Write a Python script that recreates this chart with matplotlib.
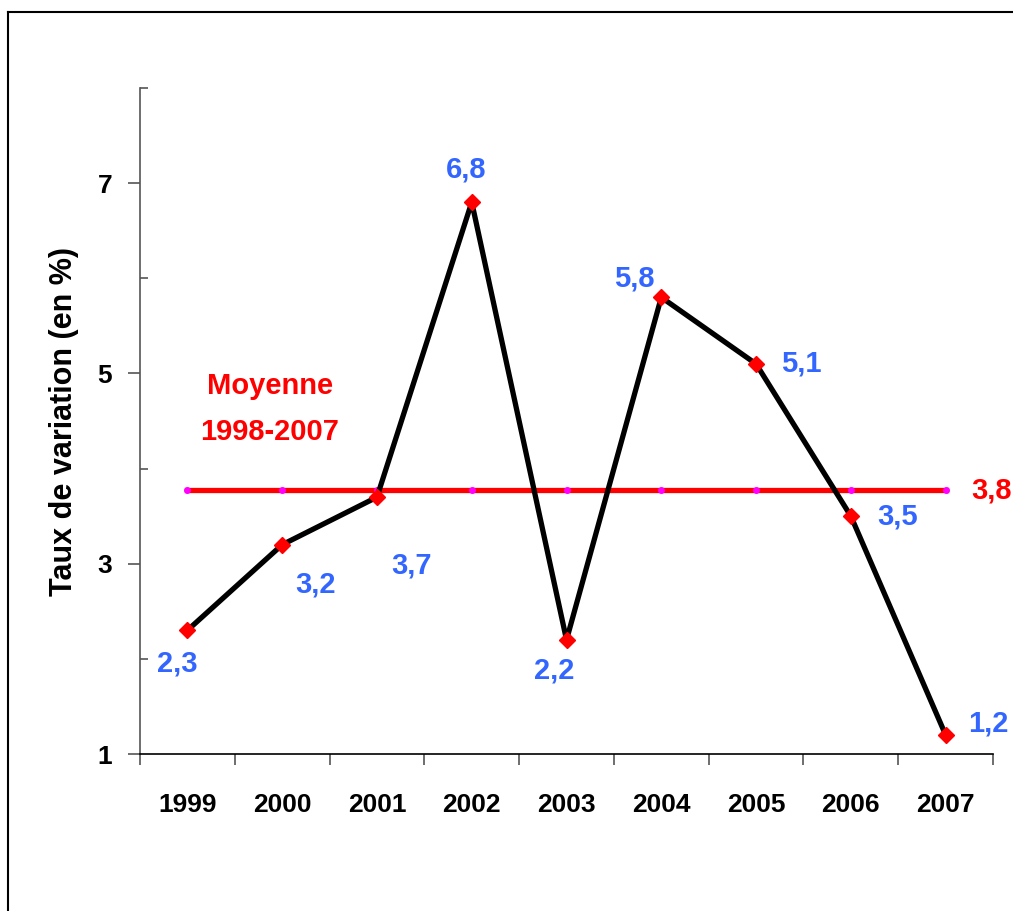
import numpy as np
import matplotlib
matplotlib.use("Agg")
import matplotlib.pyplot as plt
from matplotlib.lines import Line2D
from matplotlib.ticker import FixedLocator, NullFormatter, FixedFormatter

years = ["1999", "2000", "2001", "2002", "2003", "2004", "2005", "2006", "2007"]
taux = [2.3, 3.2, 3.7, 6.8, 2.2, 5.8, 5.1, 3.5, 1.2]
moyenne = 3.77
labels = ["2,3", "3,2", "3,7", "6,8", "2,2", "5,8", "5,1", "3,5", "1,2"]
# label offsets in pixels (dx, dy)
offsets = [(-10, -33), (33, -40), (35, -68), (-6, 33), (-12, -31),
           (-27, 19), (45, 0), (47, 0), (43, 12)]

BLUE = "#3366FF"
plt.rcParams["font.family"] = ["Liberation Sans", "DejaVu Sans"]

fig = plt.figure(figsize=(10.13, 9.11), dpi=100)
ax = fig.add_axes([0.1382, 0.1723, 0.8421, 0.7311])

x = np.arange(len(years))
ax.plot(x, [moyenne] * len(x), color="red", lw=3.8, marker="o", ms=4,
        mfc="#FF00FF", mec="#FF00FF", zorder=2)
ax.plot(x, taux, color="black", lw=3.8, marker="D", ms=8,
        mfc="red", mec="red", zorder=3)

for xi, v, lab, (dx, dy) in zip(x, taux, labels, offsets):
    ax.annotate(lab, (xi, v), xytext=(dx, dy), textcoords="offset pixels",
                ha="center", va="center", color=BLUE, fontsize=21,
                fontweight="bold", annotation_clip=False)

ax.annotate("3,8", (x[-1], moyenne), xytext=(46, 0), textcoords="offset pixels",
            ha="center", va="center", color="red", fontsize=21,
            fontweight="bold", annotation_clip=False)
ax.text(0.152, 0.552, "Moyenne", transform=ax.transAxes, ha="center",
        va="center", color="red", fontsize=21, fontweight="bold")
ax.text(0.152, 0.483, "1998-2007", transform=ax.transAxes, ha="center",
        va="center", color="red", fontsize=21, fontweight="bold")

ax.set_xlim(-0.5, len(years) - 0.5)
ax.set_ylim(1, 8)

# x: ticks at boundaries, labels at centers
ax.xaxis.set_major_locator(FixedLocator(np.arange(-0.5, len(years), 1.0)))
ax.xaxis.set_major_formatter(NullFormatter())
ax.xaxis.set_minor_locator(FixedLocator(x))
ax.xaxis.set_minor_formatter(FixedFormatter(years))
ax.tick_params(axis="x", which="major", direction="out", length=8,
               width=1.2, color="#555555")
ax.tick_params(axis="x", which="minor", length=0, pad=28)
for t in ax.get_xticklabels(minor=True):
    t.set_fontweight("bold")
    t.set_fontsize(19)

# y: major ticks out with labels, minor ticks in
ax.yaxis.set_major_locator(FixedLocator([1, 3, 5, 7]))
ax.yaxis.set_minor_locator(FixedLocator([2, 4, 6, 8]))
ax.tick_params(axis="y", which="major", direction="out", length=9,
               width=1.2, color="#555555", pad=11)
ax.tick_params(axis="y", which="minor", direction="in", length=6,
               width=1.2, color="#555555")
for t in ax.get_yticklabels():
    t.set_fontweight("bold")
    t.set_fontsize(19)

ax.set_ylabel("Taux de variation (en %)", fontsize=22, fontweight="bold",
              labelpad=13)

for s in ["top", "right"]:
    ax.spines[s].set_visible(False)
ax.spines["left"].set_color("#555555")
ax.spines["left"].set_linewidth(1.2)
ax.spines["bottom"].set_color("black")
ax.spines["bottom"].set_linewidth(1.2)

# outer frame (left and top edges visible)
fig.add_artist(Line2D([0.0079, 0.0079], [0.0, 0.9868], color="black", lw=1.5))
fig.add_artist(Line2D([0.0079, 1.0], [0.9868, 0.9868], color="black", lw=1.5))

fig.savefig("out.png", dpi=100)
